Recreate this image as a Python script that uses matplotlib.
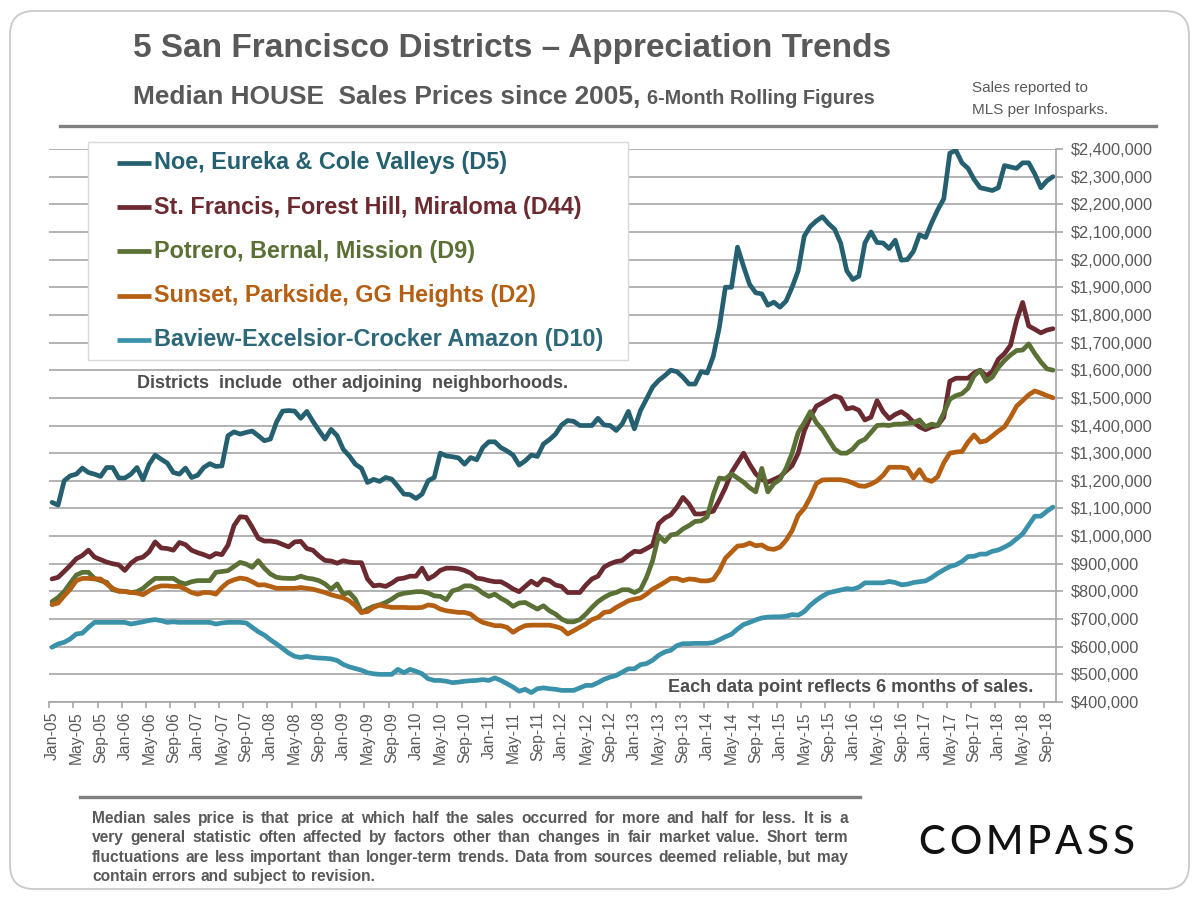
import numpy as np
import pandas as pd
import matplotlib
matplotlib.use("Agg")
import matplotlib.pyplot as plt
from matplotlib.patches import FancyBboxPatch, Rectangle
from matplotlib.lines import Line2D
from matplotlib.transforms import IdentityTransform
from matplotlib.ticker import FuncFormatter

plt.rcParams['font.family'] = ['Liberation Sans', 'DejaVu Sans']

# monthly, Jan-05 .. Oct-18
months = pd.date_range('2005-01-01', periods=166, freq='MS')
month_labels = [d.strftime('%b-%y') for d in months]

# median house sales price, 6-month rolling, in $K
noe_d5 = [1122, 1112, 1200, 1218, 1224, 1246, 1230, 1224, 1216, 1248,
          1248, 1210, 1210, 1224, 1248, 1204, 1260, 1293, 1278, 1264,
          1230, 1224, 1246, 1212, 1220, 1248, 1262, 1252, 1254, 1363,
          1377, 1369, 1375, 1380, 1363, 1345, 1351, 1412, 1452, 1454,
          1452, 1426, 1451, 1415, 1382, 1351, 1386, 1363, 1314, 1290,
          1260, 1245, 1194, 1205, 1198,
          1212, 1206, 1180, 1152, 1150, 1136, 1152, 1200, 1212, 1300,
          1290, 1287, 1283, 1260, 1284, 1276, 1320, 1341, 1341, 1320,
          1308, 1293, 1257, 1272, 1293, 1288, 1333, 1349, 1369, 1402,
          1418, 1415, 1400, 1400, 1400, 1426, 1402, 1400, 1382, 1406,
          1451, 1388, 1454, 1496, 1539, 1563, 1580,
          1600, 1595, 1575, 1550, 1550, 1595, 1590, 1650, 1755, 1900,
          1900, 2045, 1975, 1910, 1880, 1876, 1835, 1846, 1828, 1850,
          1900, 1960, 2085, 2120, 2140, 2155, 2130, 2110, 2060, 1960,
          1928, 1940, 2060, 2100, 2062, 2060, 2040, 2070, 1998, 2000,
          2030, 2090, 2080, 2133, 2180, 2220, 2385, 2395, 2350, 2330,
          2290, 2260, 2255, 2250, 2260, 2340, 2335, 2330, 2350, 2350,
          2310, 2260, 2285, 2300]

stfrancis_d44 = [845, 851, 872, 894, 918, 930, 949, 924, 915, 906,
                 900, 896, 876, 902, 918, 924, 943, 979, 957, 955,
                 949, 977, 969, 949, 940, 933, 924, 937, 933, 967,
                 1038, 1070, 1068, 1032, 992, 982, 982, 979, 970, 961,
                 979, 981, 955, 949, 928, 912, 910, 902, 911, 906,
                 904, 904, 845, 820, 823,
                 818, 830, 845, 848, 855, 855, 884, 845, 857, 876,
                 884, 884, 882, 876, 866, 848, 845, 839, 835, 835,
                 823, 809, 799, 818, 837, 823, 845, 839, 823, 818,
                 796, 796, 796, 823, 845, 855, 888, 900, 908, 912,
                 930, 945, 943, 955, 967, 1045, 1065, 1077, 1104, 1140,
                 1116,
                 1080, 1080, 1085, 1090, 1130, 1175, 1230, 1265, 1300, 1260,
                 1225, 1205, 1195, 1205, 1215, 1235, 1255, 1300, 1380, 1430,
                 1470, 1482, 1495, 1507, 1500, 1460, 1465, 1455, 1420, 1430,
                 1490, 1450, 1425, 1440, 1450, 1435, 1412, 1395, 1385, 1395,
                 1400, 1430, 1560, 1571, 1571, 1571, 1590, 1600, 1580, 1595,
                 1640, 1660, 1690, 1780, 1845, 1760, 1748, 1735, 1745, 1750]

potrero_d9 = [763, 778, 799, 830, 859, 869, 869, 847, 839, 833,
              806, 802, 800, 796, 799, 811, 830, 847, 847, 847,
              847, 833, 827, 835, 839, 839, 839, 869, 872, 875,
              890, 905, 899, 887, 911, 884, 863, 851, 848, 847,
              847, 855, 848, 845, 839, 827, 808, 827, 790, 796,
              772, 724, 736, 746, 751,
              760, 772, 787, 793, 796, 799, 799, 794, 784, 782,
              770, 802, 808, 820, 820, 811, 794, 782, 790, 775,
              763, 746, 758, 760, 748, 736, 748, 730, 718, 700,
              690, 690, 698, 718, 742, 763, 778, 790, 796, 806,
              806, 796, 806, 851, 911, 1002, 980, 1004, 1008, 1026,
              1038, 1053,
              1055, 1070, 1150, 1210, 1207, 1225, 1210, 1195, 1175, 1160,
              1245, 1160, 1190, 1205, 1245, 1300, 1375, 1410, 1450, 1410,
              1385, 1350, 1315, 1300, 1300, 1315, 1340, 1350, 1375, 1400,
              1402, 1400, 1405, 1405, 1408, 1410, 1420, 1395, 1405, 1400,
              1445, 1495, 1508, 1515, 1535, 1580, 1600, 1560, 1575, 1610,
              1635, 1655, 1671, 1673, 1695, 1660, 1630, 1605, 1600]

sunset_d2 = [752, 758, 784, 808, 839, 847, 847, 845, 845, 827,
             811, 800, 800, 796, 794, 788, 802, 814, 820, 820,
             818, 818, 808, 796, 790, 796, 796, 790, 814, 833,
             842, 848, 845, 835, 823, 824, 818, 811, 811, 811,
             811, 814, 811, 808, 802, 796, 788, 782, 777, 766,
             748, 724, 727, 742, 751,
             746, 742, 742, 742, 741, 741, 742, 751, 748, 736,
             730, 727, 724, 724, 718, 700, 688, 682, 676, 676,
             670, 652, 666, 676, 678, 678, 678, 678, 673, 666,
             646, 658, 670, 682, 698, 706, 724, 727, 742, 754,
             766, 772, 776, 790, 808, 820, 833, 847, 847, 839,
             845,
             843, 838, 838, 843, 875, 920, 942, 964, 966, 975,
             965, 968, 955, 952, 960, 985, 1020, 1075, 1100, 1140,
             1190, 1203, 1204, 1204, 1204, 1200, 1192, 1182, 1180, 1188,
             1200, 1220, 1249, 1249, 1249, 1245, 1210, 1240, 1205, 1198,
             1215, 1265, 1300, 1304, 1306, 1340, 1366, 1340, 1345, 1362,
             1380, 1395, 1430, 1470, 1490, 1511, 1525, 1517, 1508, 1500]

bayview_d10 = [598, 610, 616, 628, 646, 649, 670, 688, 688, 688,
               688, 688, 688, 682, 686, 690, 695, 698, 694, 688,
               690, 688, 688, 688, 688, 688, 688, 682, 686, 688,
               688, 688, 686, 670, 654, 642, 625, 610, 594, 577,
               565, 561, 565, 561, 559, 558, 556, 550, 536, 527,
               521, 515, 506, 502, 500,
               500, 500, 518, 506, 518, 511, 502, 484, 478, 478,
               475, 470, 472, 475, 477, 478, 481, 478, 487, 478,
               466, 454, 439, 446, 434, 448, 451, 448, 446, 442,
               442, 442, 451, 460, 460, 470, 482, 490, 496, 508,
               520, 520, 535, 539, 551, 569, 581, 587, 604, 611,
               611,
               612, 612, 612, 615, 625, 636, 645, 664, 680, 688,
               697, 704, 707, 708, 708, 710, 716, 714, 727, 750,
               768, 783, 795, 800, 805, 810, 808, 815, 831, 831,
               831, 831, 836, 832, 824, 826, 832, 835, 838, 850,
               865, 878, 890, 896, 908, 926, 927, 935, 935, 945,
               950, 960, 972, 990, 1008, 1040, 1072, 1072, 1090, 1105]

series = [noe_d5, stfrancis_d44, potrero_d9, sunset_d2, bayview_d10]
series_names = ['Noe, Eureka & Cole Valleys (D5)',
                'St. Francis, Forest Hill, Miraloma (D44)',
                'Potrero, Bernal, Mission (D9)',
                'Sunset, Parkside, GG Heights (D2)',
                'Baview-Excelsior-Crocker Amazon (D10)']
line_colors = ['#24606f', '#6b2a30', '#5a7034', '#b55f12', '#3a92aa']
text_colors = ['#24606f', '#6b2a30', '#5a7034', '#b55f12', '#2d6878']

footnote = ["Median sales price is that price at which half the sales occurred for more and half for less. It is a",
            "very general statistic often affected by factors other than changes in fair market value. Short term",
            "fluctuations are less important than longer-term trends. Data from sources deemed reliable, but may",
            "contain errors and subject to revision."]

W, H = 1200, 900
GREY = '#595959'
AXC = '#a6a6a6'

fig = plt.figure(figsize=(12, 9), dpi=100, facecolor='white')

def fx(x):
    return x / W

def fy(y):
    return 1 - y / H

# outer rounded frame
fig.add_artist(FancyBboxPatch((10, 11), 1179, 878, boxstyle='round,pad=0,rounding_size=24',
                              transform=IdentityTransform(), fc='none', ec='#c9c9c9', lw=1.3))

ax = fig.add_axes([fx(49), fy(702), fx(1056) - fx(49), fy(149) - fy(702)])
for vals, c, name in zip(series, line_colors, series_names):
    ax.plot(np.arange(len(vals)), np.array(vals) * 1000, color=c, lw=3.4,
            solid_joinstyle='round', solid_capstyle='round', label=name)

ax.set_xlim(-0.5, len(months) - 0.5)
ax.set_ylim(400000, 2400000)
ax.set_yticks(np.arange(400000, 2400001, 100000))
ax.yaxis.set_major_formatter(FuncFormatter(lambda v, p: '${:,.0f}'.format(v)))
ax.yaxis.tick_right()
ax.grid(axis='y', color=AXC, lw=1.2)
ax.set_axisbelow(True)
for s in ['left', 'top']:
    ax.spines[s].set_visible(False)
for s in ['right', 'bottom']:
    ax.spines[s].set_color(AXC)
    ax.spines[s].set_linewidth(1.2)
ax.tick_params(axis='y', length=5, width=1.2, color=AXC, labelsize=11.8, labelcolor=GREY, pad=6)

xt = np.arange(0, len(months), 4)
ax.set_xticks(xt)
ax.set_xticklabels([month_labels[i] for i in xt], rotation=90)
ax.set_xticks(np.arange(-0.5, len(months), 4), minor=True)
ax.tick_params(axis='x', which='major', length=0, labelsize=11.3, labelcolor=GREY, pad=7)
ax.tick_params(axis='x', which='minor', length=4.5, width=1.2, color=AXC)

# legend box
fig.add_artist(Rectangle((fx(88), fy(360)), fx(628) - fx(88), fy(142) - fy(360),
                         transform=fig.transFigure, fc='white', ec='#d9d9d9', lw=1.0))
for k, (name, lc, tc) in enumerate(zip(series_names, line_colors, text_colors)):
    yy = 163 + 44.2 * k
    fig.add_artist(Line2D([fx(117), fx(151)], [fy(yy), fy(yy)], color=lc, lw=3.4,
                          solid_capstyle='butt'))
    fig.text(fx(154), fy(yy), name, color=tc, fontsize=16.8, fontweight='bold', va='center')

# header
fig.text(fx(133), fy(48), '5 San Francisco Districts \u2013 Appreciation Trends',
         fontsize=24, fontweight='bold', color=GREY, va='center')
sub = fig.text(fx(133), fy(104), 'Median HOUSE  Sales Prices since 2005,',
               fontsize=18.9, fontweight='bold', color=GREY, va='baseline')
renderer = fig.canvas.get_renderer()
sub_w = sub.get_window_extent(renderer).width
fig.text(fx(133 + sub_w + 7), fy(104), '6-Month Rolling Figures',
         fontsize=14.3, fontweight='bold', color=GREY, va='baseline')
fig.text(fx(972), fy(88), 'Sales reported to', fontsize=11, color=GREY, va='center')
fig.text(fx(972), fy(110), 'MLS per Infosparks.', fontsize=11, color=GREY, va='center')
fig.add_artist(Line2D([fx(60), fx(1156)], [fy(125.5), fy(125.5)], color='#808080', lw=2.4))

# notes on plot
fig.text(fx(137), fy(383), 'Districts  include  other adjoining  neighborhoods.',
         fontsize=13, fontweight='bold', color='#4d4d4d', va='center')
fig.text(fx(668), fy(688), 'Each data point reflects 6 months of sales.',
         fontsize=13, fontweight='bold', color='#4d4d4d', va='center')

# footer
fig.add_artist(Line2D([fx(80), fx(860)], [fy(797), fy(797)], color='#808080', lw=2.4))


def justify(line, x0, x1, y, last=False, **kw):
    # lay the words of one line out so that it fills x0..x1 (baseline at y)
    words = line.split()
    texts = [fig.text(0, fy(y), w, va='baseline', **kw) for w in words]
    widths = [t.get_window_extent(renderer).width for t in texts]
    space = texts[0].get_fontsize() * 0.278 * 100 / 72
    gap = space if last else (x1 - x0 - sum(widths)) / (len(words) - 1)
    pos = x0
    for t, w in zip(texts, widths):
        t.set_x(fx(pos))
        pos += w + gap


for k, line in enumerate(footnote):
    justify(line, 92, 848, 823 + 19.3 * k, last=(k == len(footnote) - 1),
            fontsize=11.2, fontweight='bold', color=GREY)

# logo wordmark
letters = [fig.text(0, fy(843), ch, fontsize=29, fontweight='medium', color='#111111',
                    va='center', family=['Lato', 'DejaVu Sans'])
           for ch in 'COMPASS']
lw_ = [t.get_window_extent(renderer).width for t in letters]
lgap = (1135 - 918 - sum(lw_)) / (len(letters) - 1)
pos = 918
for t, w in zip(letters, lw_):
    t.set_x(fx(pos))
    pos += w + lgap

fig.savefig('out.png', dpi=100, facecolor='white')
